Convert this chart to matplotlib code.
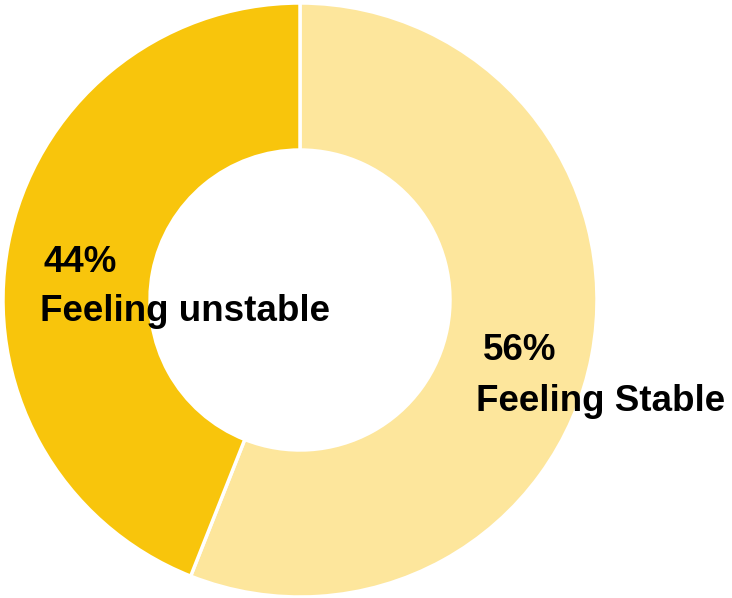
import matplotlib.pyplot as plt

# data
labels = ['Feeling Stable', 'Feeling unstable']
values = [56, 44]
colors = ['#FDE69C', '#F8C50C']

plt.rcParams['font.family'] = ['Liberation Sans', 'DejaVu Sans']

fig = plt.figure(figsize=(7.32, 5.98), dpi=100)
ax = fig.add_axes([3/732, 1/598, 594/732, 594/598])
ax.pie(values, colors=colors, startangle=90, counterclock=False,
       radius=1, wedgeprops=dict(width=0.495, edgecolor='white', linewidth=2.5))
ax.set_xlim(-1, 1)
ax.set_ylim(-1, 1)
ax.set_aspect('equal')

# label positions (data coords, text baseline)
pos = {'Feeling Stable': [(0.616, -0.202), (0.593, -0.374)],
       'Feeling unstable': [(-0.865, 0.094), (-0.875, -0.071)]}
for lab, v in zip(labels, values):
    (x1, y1), (x2, y2) = pos[lab]
    ax.text(x1, y1, f'{v}%', fontsize=26.5, fontweight='bold', va='baseline', ha='left')
    ax.text(x2, y2, lab, fontsize=26.5, fontweight='bold', va='baseline', ha='left')

fig.savefig('out.png', dpi=100)
